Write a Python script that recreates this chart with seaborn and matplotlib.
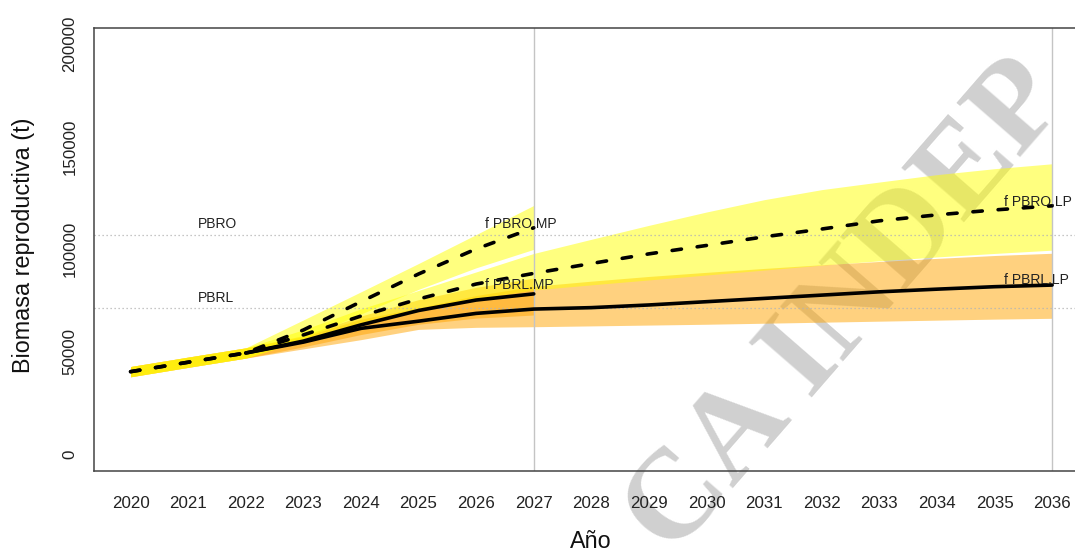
import matplotlib
matplotlib.use("Agg")
import matplotlib.pyplot as plt
import pandas as pd
import seaborn as sns

# ---- data -----------------------------------------------------------------
years_mp = list(range(2020, 2028))
years_lp = list(range(2020, 2037))
years_rl_mp = list(range(2022, 2028))
years_rl_lp = list(range(2022, 2037))

# central projections (t)
pbro_mp = [40400, 45000, 49500, 60700, 74500, 88000, 100200, 110500]
pbro_lp = [40400, 45000, 49500, 58300, 67500, 75800, 83100, 88300, 93100,
           97800, 101900, 106100, 109900, 113900, 116800, 119200, 121200]
pbrl_mp = [49500, 55300, 63200, 70200, 75300, 78300]
pbrl_lp = [49500, 54800, 61500, 65000, 68800, 70900, 71600,
           72900, 74500, 76100, 77700, 79300, 80600, 81800, 82600]

# uncertainty envelopes (t)
pbro_mp_lo = [37900, 42500, 47000, 56500, 68500, 80500, 91000, 100000]
pbro_mp_hi = [42900, 47500, 52000, 65600, 79300, 93100, 107200, 121400]
pbro_lp_lo = [37900, 42500, 47000, 55500, 63000, 70000, 76000, 80200, 82700,
              85100, 87500, 89900, 92300, 94400, 96300, 98000, 99600]
pbro_lp_hi = [42900, 47500, 52000, 60800, 71000, 80000, 89000, 98000, 104900,
              111700, 118200, 124200, 129100, 132800, 136400, 139300, 141700]
pbrl_mp_lo = [37900, 42500, 47000, 52500, 58500, 63500, 66500, 68000]
pbrl_mp_hi = [42900, 47500, 52000, 58000, 67500, 75500, 81500, 86000]
pbrl_lp_lo = [37900, 42500, 47000, 51500, 56000, 61000, 62000, 62300, 62700,
              63100, 63500, 64000, 64500, 65000, 65500, 66000, 66400]
pbrl_lp_hi = [42900, 47500, 52000, 57500, 66000, 71500, 77500, 82000, 84500,
              86800, 88800, 90700, 92500, 94100, 95600, 97000, 98100]

# reference points (t)
PBRO = 107200
PBRL = 71300

ref_labels = ["PBRO", "PBRL"]
series_labels = ["f PBRO.MP", "f PBRL.MP", "f PBRO.LP", "f PBRL.LP"]
y_ticks = [0, 50000, 100000, 150000, 200000]

# ---- figure -----------------------------------------------------------------
sns.set_style("white")
plt.rcParams["font.family"] = ["Liberation Sans", "DejaVu Sans"]

W, H = 1075, 549
fig = plt.figure(figsize=(W / 100, H / 100), dpi=100)
ax = fig.add_axes([93.7 / W, (H - 471) / H, 995.3 / W, 443.3 / H])
ax.set_facecolor("none")

# background watermark, underneath the envelopes
ax.text(848 / W, 1 - 309 / H, "CA INDEP", transform=fig.transFigure,
        rotation=49, rotation_mode="anchor", ha="center", va="center",
        fontsize=92, fontweight="bold", family="Liberation Serif",
        color="#d0d0d0", zorder=0.5, clip_on=False)

YELLOW, ORANGE = "#ffff00", "#ffa500"
ax.fill_between(years_lp, pbrl_lp_lo, pbrl_lp_hi, color=ORANGE, alpha=0.5, lw=0, zorder=1)
ax.fill_between(years_mp, pbrl_mp_lo, pbrl_mp_hi, color=ORANGE, alpha=0.5, lw=0, zorder=1)
ax.fill_between(years_lp, pbro_lp_lo, pbro_lp_hi, color=YELLOW, alpha=0.5, lw=0, zorder=1)
ax.fill_between(years_mp, pbro_mp_lo, pbro_mp_hi, color=YELLOW, alpha=0.5, lw=0, zorder=1)

# reference lines
for v in (PBRO, PBRL):
    ax.axhline(v, color="#b4b4b4", lw=0.9, ls=(0, (1, 2.2)), zorder=2)
for x in (2027, 2036):
    ax.axvline(x, color="#c4c4c4", lw=1.0, zorder=2)

df = pd.concat([
    pd.DataFrame({"Año": years_rl_mp, "biomasa": pbrl_mp, "serie": "PBRL.MP"}),
    pd.DataFrame({"Año": years_rl_lp, "biomasa": pbrl_lp, "serie": "PBRL.LP"}),
    pd.DataFrame({"Año": years_mp, "biomasa": pbro_mp, "serie": "PBRO.MP"}),
    pd.DataFrame({"Año": years_lp, "biomasa": pbro_lp, "serie": "PBRO.LP"}),
], ignore_index=True)

names = ["PBRL.MP", "PBRL.LP", "PBRO.MP", "PBRO.LP"]
sns.lineplot(data=df, x="Año", y="biomasa", hue="serie", style="serie",
             palette={n: "black" for n in names},
             dashes={"PBRO.MP": (2.6, 4.4), "PBRO.LP": (2.6, 4.4),
                     "PBRL.MP": "", "PBRL.LP": ""},
             estimator=None, sort=False, linewidth=2.6, legend=False,
             ax=ax, zorder=3)
for ln in ax.lines[-4:]:
    ln.set_dash_capstyle("round")
    ln.set_solid_capstyle("round")

txt_kw = dict(fontsize=10, color="#222222", ha="left", va="center", zorder=4)
ax.text(2021.17, 112400, ref_labels[0], **txt_kw)
ax.text(2021.17, 76300, ref_labels[1], **txt_kw)
ax.text(2026.15, 112300, series_labels[0], **txt_kw)
ax.text(2026.15, 82700, series_labels[1], **txt_kw)
ax.text(2035.16, 123000, series_labels[2], **txt_kw)
ax.text(2035.16, 85100, series_labels[3], **txt_kw)

# axes, ticks and labels
ax.set_xlim(2019.36, 2036.64)
ax.set_ylim(-8000, 208000)
ax.set_xticks(years_lp)
ax.set_xticklabels([str(y) for y in years_lp])
ax.set_yticks(y_ticks)
ax.set_yticklabels([str(v) for v in y_ticks], rotation=90, va="center")
ax.tick_params(axis="both", direction="out", length=7.7, width=1.0,
               color="#333333", labelcolor="#222222", labelsize=12.2)
ax.tick_params(axis="x", pad=10)
ax.tick_params(axis="y", pad=4)
for sp in ax.spines.values():
    sp.set_visible(True)
    sp.set_color("#444444")
    sp.set_linewidth(1.1)

ax.set_xlabel("")
fig.text(591 / W, 1 - 547.5 / H, "Año", ha="center", va="baseline",
         fontsize=16.8, color="#111111")
ax.set_ylabel("Biomasa reproductiva (t)", fontsize=16.8, color="#111111")
ax.yaxis.label.set_va("center")
ax.yaxis.set_label_coords((23.5 - 93.7) / 995.3, (471 - 245) / 443.3)

fig.savefig("out.png", dpi=100)
